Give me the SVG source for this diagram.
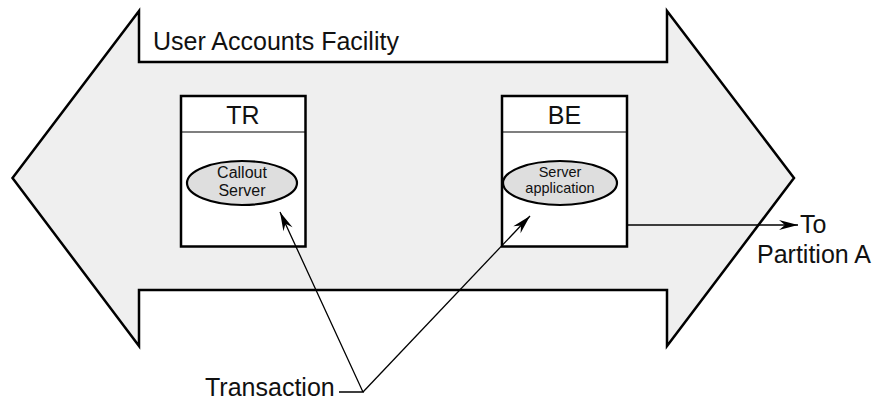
<svg xmlns="http://www.w3.org/2000/svg" width="886" height="400" viewBox="0 0 886 400">
<defs>
<style>
.big{font-family:"Liberation Sans",Arial,Helvetica,sans-serif;font-size:25px;fill:#111}
.small{font-family:"Liberation Sans",Arial,Helvetica,sans-serif;font-size:16px;fill:#111}
.box{fill:#fff;stroke:#000;stroke-width:2.5}
.div{stroke:#000;stroke-width:1.2}
.ell{fill:#dedede;stroke:#000;stroke-width:2.2}
.conn{fill:none;stroke:#000;stroke-width:1.3}
</style>
<marker id="ah" markerUnits="userSpaceOnUse" viewBox="-20 -6 22 12" refX="0" refY="0" markerWidth="22" markerHeight="12" orient="auto">
<path d="M0,0 L-19,-5 L-13,0 L-19,5 Z" fill="#000"/>
</marker>
</defs>
<g id="facility">
<polygon points="12.5,178 139,11 139,62 667,62 667,11 794,178 667,346 667,290 139,290 139,346" fill="#efefef" stroke="#000" stroke-width="2.5" stroke-linejoin="miter"/>
<text class="big" x="153" y="49.5">User Accounts Facility</text>
</g>
<g id="TR">
<rect class="box" x="181" y="96" width="124.5" height="150.5"/>
<line class="div" x1="181" y1="132" x2="305.5" y2="132"/>
<text class="big" x="243" y="124" text-anchor="middle">TR</text>
<g id="callout-server">
<ellipse class="ell" cx="242" cy="183" rx="55" ry="22"/>
<text class="small" x="242" y="178" text-anchor="middle">Callout</text>
<text class="small" x="242" y="196" text-anchor="middle">Server</text>
</g>
</g>
<g id="BE">
<rect class="box" x="502" y="96" width="125" height="150.5"/>
<line class="div" x1="502" y1="132" x2="627" y2="132"/>
<text class="big" x="564.5" y="124" text-anchor="middle">BE</text>
<g id="server-application">
<ellipse class="ell" cx="560" cy="183" rx="57" ry="22"/>
<text class="small" x="560" y="177" text-anchor="middle" style="font-size:14.5px">Server</text>
<text class="small" x="560" y="192.5" text-anchor="middle" style="font-size:14.5px">application</text>
</g>
</g>
<g id="labels">
<text class="big" x="800" y="233">To</text>
<text class="big" x="757" y="263">Partition A</text>
<text class="big" x="205" y="396">Transaction</text>
</g>
<g id="connectors">
<path class="conn" d="M339,392 L363,392 L280,212" marker-end="url(#ah)"/>
<path class="conn" d="M363,392 L530,216" marker-end="url(#ah)"/>
<path class="conn" d="M627,225 L798,225" marker-end="url(#ah)"/>
</g>
</svg>
